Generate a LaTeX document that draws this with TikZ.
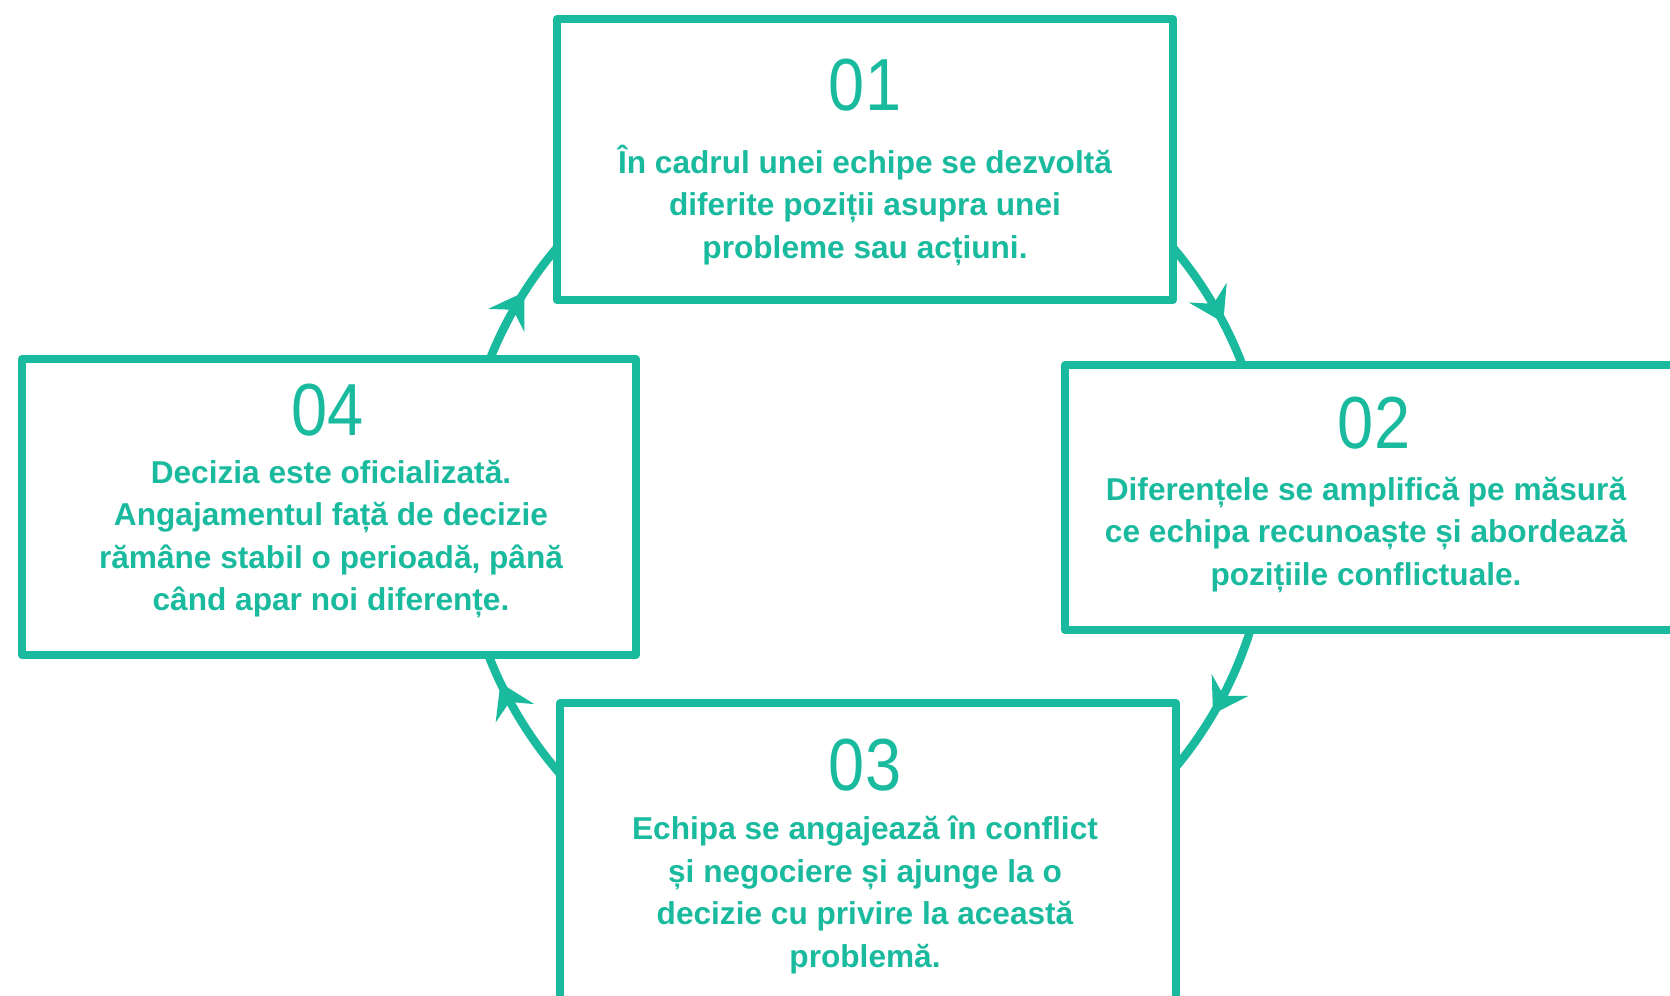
\documentclass[tikz,border=0pt]{standalone}
\usepackage{fontspec}
\setmainfont{Liberation Sans}
\newfontfamily\numfont[FakeStretch=0.88]{Liberation Sans}
\usetikzlibrary{arrows.meta,decorations.markings}
\definecolor{tealc}{RGB}{26,186,159}
\begin{document}
\begin{tikzpicture}[x=0.02cm,y=0.02cm,line join=round,
    box/.style={draw=tealc,line width=4.8pt,fill=white,inner sep=0pt},
    num/.style={text=tealc,inner sep=0pt,font=\numfont\fontsize{42}{48}\selectfont},
    txt/.style={text=tealc,align=center,inner sep=0pt,font=\fontsize{18}{24.2}\selectfont\bfseries},
    cyc/.style={draw=tealc,line width=4.8pt,postaction={decorate},
      decoration={markings,mark=at position .55 with {\arrow{Stealth[length=19pt,width=24pt,inset=7pt]}}}}]
    \def\rad{8.08cm}
    \useasboundingbox (0,0) rectangle (1670,-995);
    \clip (0,0) rectangle (1670,-995);
    \coordinate (ctr) at (865,-509);
    % cycle arcs (ends hidden below the boxes)
    \foreach \a/\b in {55/5,-3/-53,-127/-177,175/125}
        \draw[cyc] (ctr) ++(\a:\rad) arc[start angle=\a,end angle=\b,radius=\rad];
    % boxes
    \node[box,minimum width=12.32cm,minimum height=5.62cm] (b1) at (865,-159.5) {};
    \node[box,minimum width=12.7cm,minimum height=5.3cm] (b2) at (1382.5,-497.5) {};
    \node[box,minimum width=12.32cm,minimum height=6.14cm] (b3) at (868,-856.5) {};
    \node[box,minimum width=12.28cm,minimum height=5.92cm] (b4) at (329,-507) {};
    % numbers
    \node[num] (n1) at (865,-85) {01};
    \node[num] (n2) at (1374,-423) {02};
    \node[num] (n3) at (865,-765) {03};
    \node[num] (n4) at (328,-410) {04};
    % texts
    \node[txt] (t1) at (865,-205) {În cadrul unei echipe se dezvoltă\\diferite poziții asupra unei\\probleme sau acțiuni.};
    \node[txt] (t2) at (1366,-535) {Diferențele se amplifică pe măsură\\ce echipa recunoaște și abordează\\pozițiile conflictuale.};
    \node[txt] (t3) at (865,-895) {Echipa se angajează în conflict\\și negociere și ajunge la o\\decizie cu privire la această\\problemă.};
    \node[txt] (t4) at (331,-539) {Decizia este oficializată.\\Angajamentul față de decizie\\rămâne stabil o perioadă, până\\când apar noi diferențe.};
\end{tikzpicture}
\end{document}
